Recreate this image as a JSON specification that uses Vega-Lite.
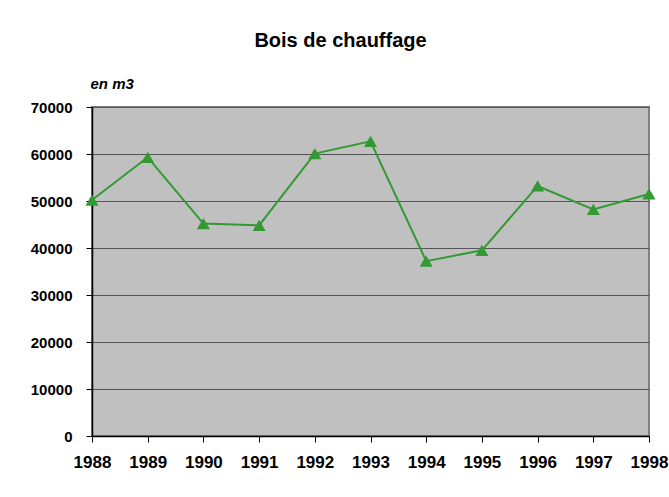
{
  "$schema": "https://vega.github.io/schema/vega-lite/v6.json",
  "autosize": {"type": "none"},
  "width": 557,
  "height": 329,
  "padding": {"left": 92, "top": 107, "right": 20, "bottom": 61},
  "background": "white",
  "title": {
    "text": "Bois de chauffage",
    "anchor": "middle",
    "frame": "group",
    "dx": -30,
    "offset": 25,
    "font": "Liberation Sans",
    "fontSize": 20,
    "fontWeight": "bold",
    "color": "black",
    "limit": 0
  },
  "config": {
    "view": {"fill": "#C0C0C0", "stroke": "#808080", "strokeWidth": 2},
    "axis": {
      "labelFont": "Liberation Sans",
      "labelFontWeight": "bold",
      "labelColor": "black",
      "domainColor": "black",
      "domainWidth": 1.5,
      "tickColor": "black",
      "tickSize": 6,
      "gridColor": "#555555",
      "gridWidth": 1
    }
  },
  "data": {
    "values": [
      {"annee": 1988, "volume": 50200},
      {"annee": 1989, "volume": 59300},
      {"annee": 1990, "volume": 45200},
      {"annee": 1991, "volume": 44800},
      {"annee": 1992, "volume": 60100},
      {"annee": 1993, "volume": 62700},
      {"annee": 1994, "volume": 37200},
      {"annee": 1995, "volume": 39500},
      {"annee": 1996, "volume": 53200},
      {"annee": 1997, "volume": 48200},
      {"annee": 1998, "volume": 51500}
    ]
  },
  "encoding": {
    "x": {
      "field": "annee",
      "type": "quantitative",
      "scale": {"domain": [1988, 1998], "nice": false, "zero": false},
      "axis": {
        "title": null,
        "values": [1988, 1989, 1990, 1991, 1992, 1993, 1994, 1995, 1996, 1997, 1998],
        "format": "d",
        "grid": false,
        "labelFontSize": 17,
        "labelPadding": 12,
        "labelFlush": false,
        "labelOverlap": false
      }
    },
    "y": {
      "field": "volume",
      "type": "quantitative",
      "scale": {"domain": [0, 70000], "nice": false},
      "axis": {
        "title": "en m3",
        "titleAngle": 0,
        "titleAlign": "left",
        "titleBaseline": "middle",
        "titleX": -2,
        "titleY": -24,
        "titleFont": "Liberation Sans",
        "titleFontSize": 15,
        "titleFontStyle": "italic",
        "titleFontWeight": "bold",
        "titleColor": "black",
        "values": [0, 10000, 20000, 30000, 40000, 50000, 60000, 70000],
        "format": "d",
        "labelFontSize": 15,
        "labelPadding": 14,
        "grid": true
      }
    }
  },
  "layer": [
    {"mark": {"type": "line", "color": "#339933", "strokeWidth": 2}},
    {"mark": {"type": "point", "shape": "triangle-up", "filled": true, "color": "#339933", "opacity": 1, "size": 170}}
  ]
}
